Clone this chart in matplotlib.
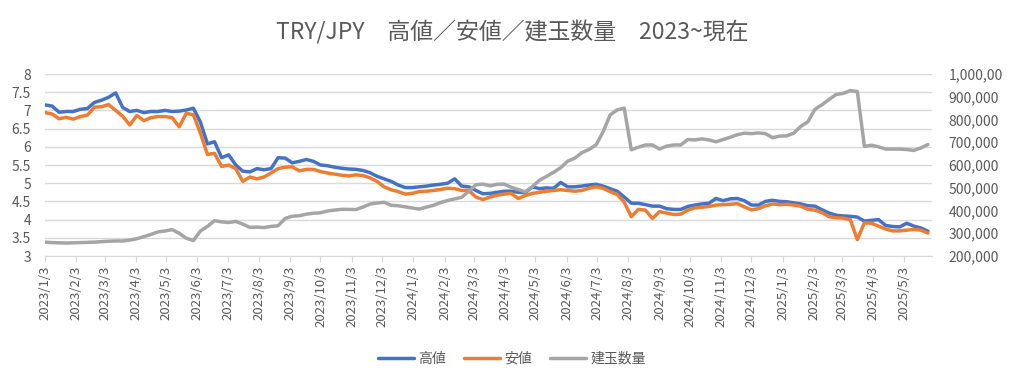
import numpy as np
import pandas as pd
import matplotlib
matplotlib.use("Agg")
import matplotlib.pyplot as plt
from matplotlib.ticker import FixedLocator

plt.rcParams['font.family'] = ['Noto Sans CJK JP', 'DejaVu Sans']

# weekly samples
dates = pd.date_range("2023-01-03", periods=126, freq="7D")

high = [
    7.15, 7.12, 6.95, 6.97, 6.97, 7.03, 7.05, 7.22, 7.28, 7.36,
    7.48, 7.08, 6.97, 7.00, 6.94, 6.97, 6.97, 7.00, 6.97, 6.98,
    7.01, 7.06, 6.68, 6.08, 6.14, 5.70, 5.78, 5.50, 5.33, 5.31,
    5.40, 5.37, 5.40, 5.70, 5.69, 5.56, 5.60, 5.65, 5.60, 5.50,
    5.48, 5.44, 5.41, 5.39, 5.38, 5.35, 5.29, 5.19, 5.12, 5.05,
    4.95, 4.88, 4.88, 4.90, 4.92, 4.95, 4.97, 5.00, 5.12, 4.92,
    4.90, 4.80, 4.71, 4.72, 4.75, 4.78, 4.78, 4.75, 4.74, 4.90,
    4.85, 4.87, 4.86, 5.02, 4.90, 4.90, 4.92, 4.95, 4.97, 4.92,
    4.85, 4.78, 4.62, 4.45, 4.45, 4.41, 4.37, 4.37, 4.30, 4.28,
    4.28, 4.36, 4.40, 4.43, 4.45, 4.58, 4.52, 4.57, 4.58, 4.52,
    4.40, 4.40, 4.50, 4.53, 4.50, 4.49, 4.46, 4.43, 4.38, 4.37,
    4.27, 4.18, 4.12, 4.10, 4.09, 4.07, 3.96, 3.98, 4.00, 3.84,
    3.81, 3.80, 3.90, 3.82, 3.77, 3.68,
]

low = [
    6.94, 6.90, 6.77, 6.81, 6.76, 6.83, 6.87, 7.09, 7.10, 7.16,
    7.00, 6.84, 6.60, 6.86, 6.72, 6.80, 6.83, 6.83, 6.80, 6.55,
    6.92, 6.88, 6.38, 5.79, 5.82, 5.46, 5.50, 5.40, 5.05, 5.17,
    5.12, 5.17, 5.28, 5.40, 5.44, 5.45, 5.34, 5.38, 5.38, 5.32,
    5.28, 5.25, 5.22, 5.20, 5.23, 5.21, 5.15, 5.05, 4.90, 4.82,
    4.77, 4.70, 4.72, 4.77, 4.78, 4.80, 4.83, 4.86, 4.85, 4.80,
    4.80, 4.62, 4.55, 4.62, 4.67, 4.70, 4.72, 4.58, 4.66, 4.72,
    4.75, 4.78, 4.80, 4.82, 4.80, 4.78, 4.80, 4.86, 4.90, 4.86,
    4.77, 4.69, 4.48, 4.08, 4.28, 4.26, 4.03, 4.22, 4.18, 4.14,
    4.15, 4.26, 4.32, 4.34, 4.36, 4.40, 4.41, 4.42, 4.44, 4.35,
    4.27, 4.30, 4.38, 4.43, 4.41, 4.42, 4.40, 4.37, 4.28, 4.26,
    4.19, 4.08, 4.05, 4.04, 4.00, 3.45, 3.91, 3.90, 3.82, 3.74,
    3.69, 3.69, 3.71, 3.73, 3.71, 3.63,
]

open_interest = [
    261, 259, 258, 257, 258, 259, 260, 261, 263, 265,
    266, 266, 270, 276, 285, 295, 306, 310, 316, 300,
    278, 268, 310, 330, 355, 350, 347, 352, 340, 326,
    327, 325, 330, 333, 365, 375, 377, 384, 388, 390,
    398, 402, 405, 405, 404, 415, 428, 433, 436, 423,
    421, 416, 411, 406, 415, 423, 435, 444, 451, 458,
    485, 513, 516, 508, 515, 516, 502, 492, 482, 505,
    533, 550, 568, 588, 617, 630, 654, 668, 688, 745,
    820, 842, 850, 667, 678, 688, 688, 670, 683, 688,
    688, 712, 710, 715, 710, 702, 712, 722, 733, 740,
    738, 741, 738, 720, 727, 728, 740, 770, 790, 845,
    865, 888, 910, 915, 927, 923, 682, 687, 680, 670,
    670, 670, 668, 664, 675, 690,
]
open_interest = [v * 1000 for v in open_interest]

left_ticks = [3, 3.5, 4, 4.5, 5, 5.5, 6, 6.5, 7, 7.5, 8]
left_labels = ["3", "3.5", "4", "4.5", "5", "5.5", "6", "6.5", "7", "7.5", "8"]
right_ticks = [200000, 300000, 400000, 500000, 600000, 700000, 800000, 900000, 1000000]
right_labels = ["200,000", "300,000", "400,000", "500,000", "600,000",
                "700,000", "800,000", "900,000", "1,000,00"]
month_ticks = pd.date_range("2023-01-03", "2025-05-03", freq=pd.DateOffset(months=1))
month_labels = [f"{d.year}/{d.month}/{d.day}" for d in month_ticks]

TXT = "#595959"
GRID = "#d9d9d9"

fig = plt.figure(figsize=(10.24, 3.85), dpi=100)
ax = fig.add_axes([45 / 1024, 1 - 256 / 385, (932 - 45) / 1024, (256 - 74) / 385])
ax2 = ax.twinx()

l1, = ax.plot(dates, high, color="#4472C4", lw=2.5, label="高値", solid_capstyle="round")
l2, = ax.plot(dates, low, color="#ED7D31", lw=2.5, label="安値", solid_capstyle="round")
l3, = ax2.plot(dates, open_interest, color="#A5A5A5", lw=2.5, label="建玉数量", solid_capstyle="round")

ax.set_xlim(pd.Timestamp("2023-01-03"), pd.Timestamp("2025-05-31"))
ax.set_ylim(3, 8)
ax2.set_ylim(200000, 1000000)

ax.yaxis.set_major_locator(FixedLocator(left_ticks))
ax.set_yticklabels(left_labels)
ax2.yaxis.set_major_locator(FixedLocator(right_ticks))
ax2.set_yticklabels(right_labels)
ax.set_xticks(month_ticks)
ax.set_xticklabels(month_labels, rotation=90)

ax.grid(axis="y", color=GRID, lw=1)
ax.set_axisbelow(True)
for a in (ax, ax2):
    for s in ("top", "left", "right"):
        a.spines[s].set_visible(False)
    a.spines["bottom"].set_color(GRID)
ax2.spines["bottom"].set_visible(False)

ax.tick_params(axis="y", length=0, pad=10, labelsize=10, labelcolor=TXT)
ax2.tick_params(axis="y", length=0, pad=12, labelsize=10, labelcolor=TXT)
ax.tick_params(axis="x", length=4, color=GRID, pad=3, labelsize=9.5, labelcolor=TXT)

fig.text(0.5, 0.915, "TRY/JPY　高値／安値／建玉数量　2023~現在",
         ha="center", va="center", fontsize=16.5, color=TXT)

fig.legend(handles=[l1, l2, l3], loc="center", bbox_to_anchor=(0.5, 0.068), ncol=3,
           frameon=False, fontsize=10, labelcolor=TXT, handlelength=2.6,
           handletextpad=0.3, columnspacing=1.3)

fig.savefig("out.png", dpi=100)
